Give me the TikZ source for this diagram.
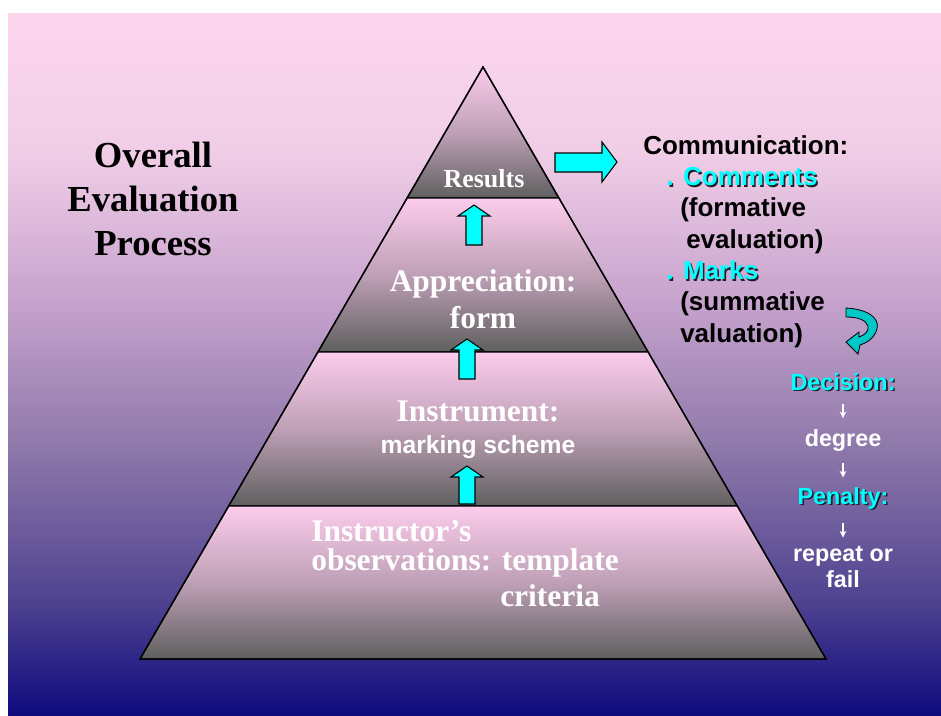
\documentclass[tikz,border=0pt]{standalone}
\usepackage{fontspec}
\setmainfont{Liberation Serif}
\setsansfont{Liberation Sans}
\usetikzlibrary{arrows.meta}

\definecolor{bgpink}{RGB}{253,214,238}
\definecolor{bgone}{RGB}{240,205,230}
\definecolor{bgtwo}{RGB}{201,165,207}
\definecolor{bgthree}{RGB}{142,120,170}
\definecolor{bgfour}{RGB}{78,66,144}
\definecolor{bgnavy}{RGB}{14,10,126}
\definecolor{bandpink}{RGB}{252,204,236}
\definecolor{bandmid}{RGB}{190,160,182}
\definecolor{bandgray}{RGB}{95,95,95}
\definecolor{brightcyan}{RGB}{0,255,255}
\definecolor{curlcyan}{RGB}{0,200,200}
\definecolor{shadowgray}{RGB}{30,30,40}

\pgfdeclareverticalshading{slidebg}{100bp}{color(0bp)=(bgnavy); color(25bp)=(bgnavy);
	color(33bp)=(bgfour); color(44bp)=(bgthree); color(55bp)=(bgtwo); color(65bp)=(bgone);
	color(75bp)=(bgpink); color(100bp)=(bgpink)}

\newcommand{\shadowed}[1]{\makebox[0pt][l]{\hspace{1.2pt}\raisebox{-1.2pt}{\color{shadowgray}#1}}{\color{brightcyan}#1}}

% up arrow: centre x, tip y, bottom y
\newcommand{\uparr}[3]{%
	\draw[blockarrow] (#1,#2) -- ({#1+16},{#2+11}) -- ({#1+8},{#2+11}) -- ({#1+8},#3)
		-- ({#1-8},#3) -- ({#1-8},{#2+11}) -- ({#1-16},{#2+11}) -- cycle;}

\tikzset{
	band/.style={draw=black, line width=1pt, top color=bandpink, bottom color=bandgray, middle color=bandmid},
	blockarrow/.style={draw=black, fill=brightcyan, line width=0.8pt},
	titletext/.style={font=\bfseries\fontsize{27.5pt}{33pt}\selectfont, align=center, inner sep=0pt},
	leveltext/.style={font=\bfseries\fontsize{23.6pt}{27.75pt}\selectfont, text=white, inner sep=0pt},
	schemetext/.style={font=\sffamily\bfseries\fontsize{18.5pt}{22pt}\selectfont, text=white, inner sep=0pt},
	commtext/.style={font=\sffamily\bfseries\fontsize{19.5pt}{23.5pt}\selectfont, align=left, inner sep=0pt},
	sidetext/.style={font=\sffamily\bfseries\fontsize{17.5pt}{19.5pt}\selectfont, text=white, inner sep=0pt},
	smallarr/.style={white, line width=1.1pt, -{Stealth[length=5pt,width=5pt]}},
}

\begin{document}
\begin{tikzpicture}[x=0.75pt,y=-0.75pt]
	\useasboundingbox (0,0) rectangle (941,715);
	\fill[white] (0,0) rectangle (941,715);
	\fill[shading=slidebg] (8,13) rectangle (941,715);

	% pyramid
	\fill[band] (483,67) -- (558.9,198) -- (407.1,198) -- cycle;
	\fill[band] (407.1,198) -- (558.9,198) -- (648.1,352) -- (317.9,352) -- cycle;
	\fill[band] (317.9,352) -- (648.1,352) -- (737.3,506) -- (228.7,506) -- cycle;
	\fill[band] (228.7,506) -- (737.3,506) -- (826,659) -- (140,659) -- cycle;
	\draw[black, line width=1pt] (483,67) -- (826,659) -- (140,659) -- cycle;

	\uparr{474}{205}{245}
	\uparr{467}{339}{379}
	\uparr{467}{466}{504}

	\draw[blockarrow] (555,153) -- (602,153) -- (602,142) -- (617,162) -- (602,182) -- (602,172) -- (555,172) -- cycle;

	% curled arrow
	\draw[draw=black, fill=curlcyan, line width=0.6pt] (846,308) .. controls (866,309) and (880,317) .. (877,329)
		.. controls (874,339) and (866,343) .. (860,345) -- (858,354) -- (846,342) -- (859,332) -- (859,337)
		.. controls (865,335) and (869,331) .. (868,326) .. controls (866,320) and (858,317) .. (846,317) -- cycle;

	\node[titletext, anchor=north] (title) at (153,141.5) {Overall\\Evaluation\\Process};

	\node[leveltext, anchor=base, font=\bfseries\fontsize{19.5pt}{23pt}\selectfont] (results) at (484,187) {Results};
	\node[leveltext, anchor=north, align=center] (apprec) at (483,269) {Appreciation:\\form};
	\node[leveltext, anchor=base] (instr) at (478,421) {Instrument:};
	\node[schemetext, anchor=base] (scheme) at (478,453) {marking scheme};
	\node[leveltext, anchor=base west] (obs1) at (311,541) {Instructor’s};
	\node[leveltext, anchor=base west] (obs2) at (311,570) {observations: template};
	\node[leveltext, anchor=base west] (obs3) at (500,606) {criteria};

	\node[commtext, anchor=north west] (comm) at (643,135) {Communication:\\
		\hspace*{17.25pt}\shadowed{. Comments}\\
		\hspace*{27.75pt}(formative\\
		\hspace*{32.25pt}evaluation)\\
		\hspace*{17.25pt}\shadowed{. Marks}\\
		\hspace*{27.75pt}(summative\\
		\hspace*{27.75pt}valuation)};

	\node[sidetext, anchor=base] (dec) at (843,390) {\shadowed{Decision:}};
	\node[sidetext, anchor=base] (deg) at (843,446) {degree};
	\node[sidetext, anchor=base] (pen) at (843,504) {\shadowed{Penalty:}};
	\node[sidetext, anchor=base] (rep1) at (843,561) {repeat or};
	\node[sidetext, anchor=base] (rep2) at (843,587) {fail};

	\draw[smallarr, shorten <=9pt, shorten >=8pt] (dec.south) -- (deg.north);
	\draw[smallarr, shorten <=9pt, shorten >=7pt] (deg.south) -- (pen.north);
	\draw[smallarr, shorten <=9pt, shorten >=6pt] (pen.south) -- (rep1.north);
\end{tikzpicture}
\end{document}
